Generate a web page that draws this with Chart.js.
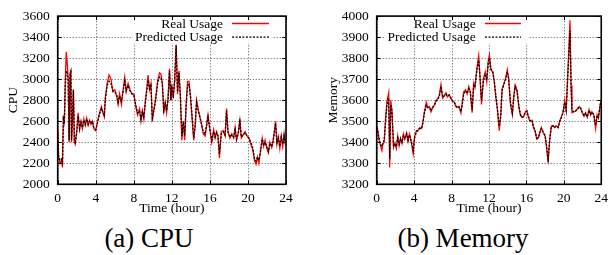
<!DOCTYPE html>
<html>
<head>
<meta charset="utf-8">
<script src="https://cdn.jsdelivr.net/npm/chart.js@4/dist/chart.umd.min.js"></script>
<style>
  html, body { margin: 0; padding: 0; background: #fff; }
  #wrap { position: relative; width: 614px; height: 255px; overflow: hidden; }
  canvas { position: absolute; top: 0; }
  .cap { position: absolute; font-family: "Liberation Serif", "Times New Roman", serif; font-size: 27px; color: #000;
         text-align: center; width: 200px; line-height: 30px; top: 223px; }
</style>
</head>
<body>
<div id="wrap">
  <canvas id="cpu" width="307" height="215" style="left:0px"></canvas>
  <canvas id="mem" width="307" height="215" style="left:307px"></canvas>
  <div class="cap" style="left:49px">(a) CPU</div>
  <div class="cap" style="left:363px">(b) Memory</div>
</div>
<script>
// ---------------- DATA ----------------
const seriesNames = ["Real Usage", "Predicted Usage"];
const xTitle = "Time (hour)";

const cpuHours = [0.0,0.1,0.25,0.4,0.5,0.6,0.7,0.8,0.9,1.0,1.1,1.2,1.3,1.38,1.45,1.55,1.65,1.75,1.85,2.0,2.15,2.3,2.45,2.6,2.75,2.9,3.05,3.2,3.35,3.5,3.65,3.8,4.0,4.2,4.4,4.6,4.75,4.9,5.0,5.2,5.4,5.6,5.8,6.0,6.2,6.35,6.5,6.7,6.85,7.05,7.2,7.4,7.6,7.8,8.0,8.2,8.4,8.6,8.75,8.9,9.05,9.2,9.35,9.5,9.65,9.8,9.95,10.1,10.3,10.5,10.7,10.85,11.0,11.15,11.3,11.45,11.6,11.75,11.9,12.0,12.15,12.3,12.45,12.6,12.75,12.9,13.05,13.2,13.35,13.5,13.65,13.8,13.95,14.1,14.3,14.45,14.6,14.8,14.95,15.15,15.3,15.5,15.65,15.8,16.0,16.2,16.4,16.55,16.7,16.85,17.0,17.2,17.4,17.6,17.75,17.9,18.1,18.3,18.5,18.65,18.8,19.0,19.15,19.3,19.5,19.7,19.9,20.1,20.3,20.5,20.7,20.85,21.0,21.15,21.3,21.5,21.65,21.8,22.0,22.15,22.3,22.5,22.65,22.8,22.9,23.05,23.2,23.35,23.5,23.65,23.8,23.9,24.0];
const cpuReal = [2520,2250,2200,2230,2160,2650,2600,3000,3260,3150,3000,2400,3060,3090,2400,2620,2900,2400,2380,2500,2680,2520,2600,2530,2620,2560,2630,2560,2610,2570,2600,2530,2510,2600,2680,2740,2680,2640,2820,2960,3040,3000,2880,2900,2840,2760,2860,2760,2880,3020,2880,2960,2900,2860,2860,2740,2660,2720,2600,2700,2620,2780,2900,3040,2900,2960,2600,2700,2820,2980,3060,3050,2960,2680,2780,2680,2820,3100,2800,2940,2820,3000,3330,2860,3080,2820,2420,2600,2420,2760,2980,2980,2840,2660,2420,2560,2800,2700,2640,2560,2480,2460,2560,2660,2520,2400,2520,2440,2500,2460,2250,2500,2510,2460,2720,2500,2440,2480,2440,2540,2420,2500,2620,2440,2470,2500,2460,2440,2380,2330,2220,2190,2260,2200,2300,2440,2360,2420,2340,2300,2400,2350,2420,2520,2600,2380,2450,2340,2460,2360,2480,2400,2440];
const cpuPred = [2480,2260,2230,2240,2210,2620,2580,2950,3080,3060,3000,2420,3040,3070,2420,2600,2900,2420,2400,2500,2650,2530,2590,2540,2610,2570,2620,2570,2600,2580,2600,2540,2520,2590,2670,2720,2690,2660,2800,2940,2980,2960,2890,2880,2850,2780,2840,2790,2870,2980,2890,2940,2890,2860,2850,2760,2680,2700,2620,2690,2640,2760,2880,2990,2910,2940,2630,2700,2800,2960,3020,3020,2960,2700,2770,2700,2800,3080,2800,2920,2850,2980,3320,2880,3060,2840,2460,2600,2460,2740,2940,2950,2850,2680,2440,2560,2780,2690,2640,2560,2500,2480,2560,2640,2520,2420,2500,2450,2490,2460,2290,2480,2500,2470,2700,2500,2450,2470,2450,2520,2430,2490,2600,2450,2470,2490,2460,2440,2400,2350,2240,2220,2260,2230,2300,2430,2370,2400,2350,2310,2390,2360,2410,2510,2580,2400,2440,2360,2450,2380,2460,2410,2440];

const memHours = [0.0,0.1,0.25,0.4,0.55,0.65,0.8,0.95,1.1,1.28,1.39,1.5,1.63,1.8,1.95,2.1,2.25,2.4,2.55,2.7,2.85,3.0,3.2,3.35,3.5,3.7,3.9,4.05,4.25,4.4,4.6,4.8,4.95,5.1,5.3,5.45,5.65,5.8,6.0,6.15,6.35,6.5,6.7,6.87,7.05,7.2,7.4,7.55,7.75,7.92,8.1,8.3,8.45,8.6,8.8,9.0,9.15,9.3,9.5,9.67,9.84,10.0,10.2,10.36,10.5,10.7,10.9,11.05,11.2,11.4,11.6,11.76,11.93,12.05,12.2,12.4,12.56,12.74,12.9,13.1,13.26,13.4,13.6,13.78,13.96,14.1,14.3,14.5,14.66,14.8,15.0,15.2,15.35,15.5,15.7,15.9,16.05,16.2,16.4,16.6,16.75,16.92,17.1,17.27,17.45,17.6,17.8,18.0,18.15,18.32,18.5,18.67,18.85,19.0,19.2,19.4,19.55,19.7,19.9,20.1,20.25,20.4,20.52,20.66,20.77,20.87,21.1,21.3,21.64,21.8,21.98,22.16,22.33,22.5,22.7,22.86,23.0,23.2,23.4,23.56,23.7,23.9,24.0];
const memReal = [3480,3460,3410,3385,3360,3390,3400,3515,3595,3635,3280,3600,3550,3375,3395,3370,3430,3385,3420,3395,3440,3415,3445,3405,3440,3400,3345,3430,3455,3455,3470,3465,3500,3545,3590,3565,3570,3545,3570,3575,3600,3605,3625,3675,3610,3620,3635,3615,3625,3610,3595,3590,3570,3565,3570,3540,3590,3640,3650,3630,3665,3640,3540,3680,3660,3750,3812,3700,3580,3700,3735,3690,3790,3815,3745,3735,3690,3610,3555,3455,3530,3655,3680,3705,3745,3700,3580,3530,3625,3672,3645,3565,3530,3518,3522,3545,3550,3520,3500,3505,3470,3455,3415,3420,3450,3470,3445,3430,3375,3305,3420,3478,3478,3470,3478,3470,3500,3516,3540,3600,3545,3705,3828,3980,3670,3540,3545,3550,3570,3560,3540,3523,3540,3518,3555,3530,3545,3530,3465,3530,3515,3585,3595];
const memPred = [3470,3460,3420,3390,3380,3395,3410,3500,3580,3610,3320,3580,3550,3385,3390,3380,3420,3390,3415,3400,3430,3420,3440,3410,3435,3405,3360,3420,3450,3455,3465,3465,3495,3540,3575,3565,3565,3548,3565,3575,3595,3600,3620,3665,3615,3620,3630,3620,3625,3612,3598,3590,3575,3565,3568,3545,3580,3630,3645,3632,3655,3640,3555,3670,3662,3740,3790,3710,3600,3690,3725,3695,3780,3800,3750,3735,3695,3620,3560,3475,3525,3645,3675,3700,3735,3705,3590,3540,3615,3665,3645,3570,3535,3520,3522,3543,3548,3525,3502,3505,3475,3458,3420,3422,3448,3465,3447,3432,3385,3320,3410,3475,3478,3470,3478,3470,3498,3514,3538,3590,3550,3690,3800,3930,3690,3550,3545,3550,3568,3562,3542,3525,3538,3520,3552,3532,3543,3532,3480,3528,3518,3580,3590];

// ---------------- CHARTS ----------------
const FONT = "'Liberation Serif', 'Times New Roman', serif";
const tickFont = { family: FONT, size: 13.5, lineHeight: 1.2, weight: 'normal' };

function pts(xs, ys) { return xs.map((x, i) => ({ x: x, y: ys[i] })); }

const framePlugin = {
  id: 'gnuFrame',
  beforeDatasetsDraw(chart, args, opts) {
    const ctx = chart.ctx, a = chart.chartArea;
    const xs = chart.scales.x, ys = chart.scales.y;
    const L = opts.legend;
    ctx.save();
    // dotted grid
    ctx.strokeStyle = '#555';
    ctx.lineWidth = 1;
    ctx.setLineDash([1, 2]);
    ctx.beginPath();
    xs.ticks.forEach(t => {
      const px = Math.round(xs.getPixelForValue(t.value)) + 0.5;
      ctx.moveTo(px, a.bottom); ctx.lineTo(px, a.top);
    });
    ys.ticks.forEach(t => {
      const py = Math.round(ys.getPixelForValue(t.value)) + 0.5;
      ctx.moveTo(a.left, py); ctx.lineTo(a.right, py);
    });
    ctx.stroke();
    ctx.setLineDash([]);
    // opaque key box
    ctx.fillStyle = '#fff';
    ctx.fillRect(L.boxLeft, a.top, L.boxRight - L.boxLeft, L.boxBottom - a.top);
    ctx.font = 'normal 13.5px ' + FONT;
    ctx.fillStyle = '#000';
    ctx.textAlign = 'right';
    ctx.textBaseline = 'middle';
    ctx.fillText(seriesNames[0], L.textRight, L.y1);
    ctx.fillText(seriesNames[1], L.textRight, L.y2);
    ctx.lineWidth = 1.3;
    ctx.strokeStyle = '#ff0000';
    ctx.beginPath(); ctx.moveTo(L.lineL, L.y1 - 0.5); ctx.lineTo(L.lineR, L.y1 - 0.5); ctx.stroke();
    ctx.strokeStyle = '#000';
    ctx.setLineDash([2, 1.5]);
    ctx.beginPath(); ctx.moveTo(L.lineL, L.y2 - 0.5); ctx.lineTo(L.lineR, L.y2 - 0.5); ctx.stroke();
    ctx.restore();
  },
  afterDatasetsDraw(chart) {
    const ctx = chart.ctx, a = chart.chartArea;
    const xs = chart.scales.x, ys = chart.scales.y;
    ctx.save();
    ctx.strokeStyle = '#000';
    ctx.lineWidth = 1;
    const tl = 4;
    ctx.beginPath();
    xs.ticks.forEach(t => {
      const px = Math.round(xs.getPixelForValue(t.value)) + 0.5;
      ctx.moveTo(px, a.bottom); ctx.lineTo(px, a.bottom - tl);
      ctx.moveTo(px, a.top); ctx.lineTo(px, a.top + tl);
    });
    ys.ticks.forEach(t => {
      const py = Math.round(ys.getPixelForValue(t.value)) + 0.5;
      ctx.moveTo(a.left, py); ctx.lineTo(a.left + tl, py);
      ctx.moveTo(a.right, py); ctx.lineTo(a.right - tl, py);
    });
    ctx.stroke();
    ctx.lineWidth = 1.6;
    ctx.strokeRect(a.left, a.top, a.right - a.left, a.bottom - a.top);
    ctx.restore();
  }
};

function makeChart(id, hours, real, pred, cfg) {
  return new Chart(document.getElementById(id), {
    type: 'line',
    data: {
      datasets: [
        { label: seriesNames[0], data: pts(hours, real), borderColor: '#ff0000', borderWidth: 1.3,
          pointRadius: 0, tension: 0, order: 1 },
        { label: seriesNames[1], data: pts(hours, pred), borderColor: '#000000', borderWidth: 1.3,
          borderDash: [2, 1.5], pointRadius: 0, tension: 0, order: 0 }
      ]
    },
    options: {
      responsive: false, animation: false, devicePixelRatio: 1,
      layout: { padding: { top: 13.3, right: cfg.padRight, left: 0, bottom: 0 } },
      plugins: { legend: { display: false }, tooltip: { enabled: false }, gnuFrame: { legend: cfg.legend } },
      scales: {
        x: {
          type: 'linear', min: 0, max: 24,
          ticks: { stepSize: 4, color: '#000', font: tickFont, padding: 6, maxRotation: 0,
                   callback: v => String(v) },
          grid: { display: false, drawTicks: false },
          border: { display: false },
          title: { display: true, text: xTitle, color: '#000',
                   font: { family: FONT, size: 13.5, lineHeight: 1, weight: 'normal' }, padding: { top: 0, bottom: 0 } },
          afterFit(s) { s.height = 215 - 184.3; }
        },
        y: {
          min: cfg.ymin, max: cfg.ymax,
          ticks: { stepSize: cfg.ystep, color: '#000', font: tickFont, padding: 8,
                   callback: v => String(v) },
          grid: { display: false, drawTicks: false },
          border: { display: false },
          title: { display: true, text: cfg.ytitle, color: '#000',
                   font: { family: FONT, size: 13.5, lineHeight: 1, weight: 'normal' }, padding: { top: cfg.ytitlePad, bottom: 0 } },
          afterFit(s) { s.width = cfg.yWidth; }
        }
      }
    },
    plugins: [framePlugin]
  });
}

makeChart('cpu', cpuHours, cpuReal, cpuPred, {
  ymin: 2000, ymax: 3600, ystep: 200, ytitle: 'CPU', ytitlePad: 6.5, yWidth: 57.7, padRight: 21,
  legend: { boxLeft: 133, boxRight: 273, boxBottom: 43, textRight: 223, lineL: 232, lineR: 269, y1: 24, y2: 37.7 }
});
makeChart('mem', memHours, memReal, memPred, {
  ymin: 3200, ymax: 4000, ystep: 100, ytitle: 'Memory', ytitlePad: 19.3, yWidth: 69.7, padRight: 8,
  legend: { boxLeft: 78, boxRight: 221, boxBottom: 43, textRight: 168.7, lineL: 178, lineR: 214, y1: 24, y2: 37.7 }
});
</script>
</body>
</html>
